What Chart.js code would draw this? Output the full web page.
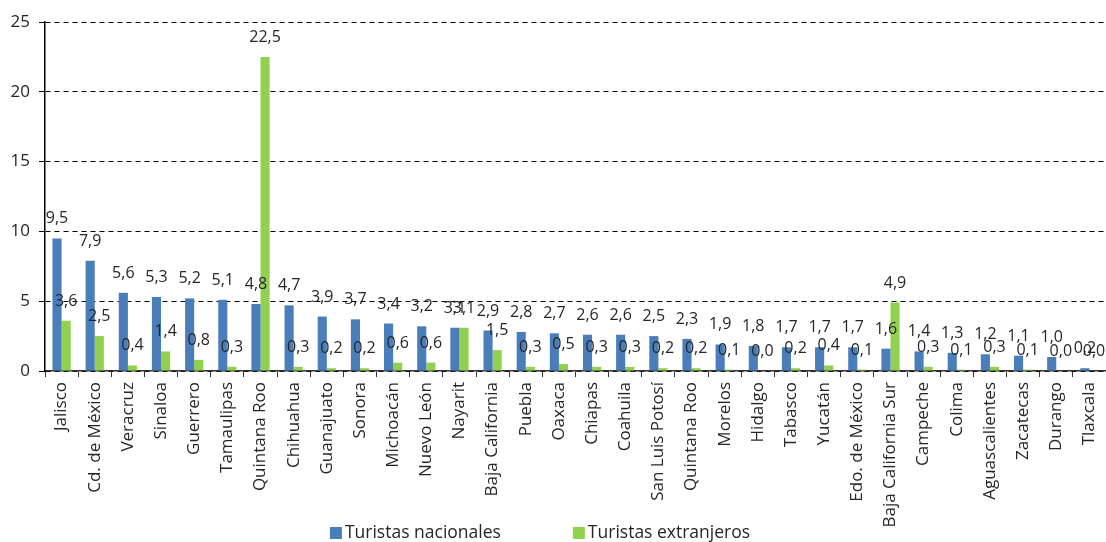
<!DOCTYPE html>
<html><head><meta charset="utf-8">
<script src="https://cdn.jsdelivr.net/npm/chart.js@4"></script>
<style>html,body{margin:0;padding:0;background:#fff}canvas{display:block}</style>
</head><body>
<canvas id="c" width="1106" height="542"></canvas>
<script>
const categories = ['Jalisco','Cd. de México','Veracruz','Sinaloa','Guerrero','Tamaulipas','Quintana Roo','Chihuahua','Guanajuato','Sonora','Michoacán','Nuevo León','Nayarit','Baja California','Puebla','Oaxaca','Chiapas','Coahuila','San Luis Potosí','Quintana Roo','Morelos','Hidalgo','Tabasco','Yucatán','Edo. de México','Baja California Sur','Campeche','Colima','Aguascalientes','Zacatecas','Durango','Tlaxcala'];
const nacionales = [9.5,7.9,5.6,5.3,5.2,5.1,4.8,4.7,3.9,3.7,3.4,3.2,3.1,2.9,2.8,2.7,2.6,2.6,2.5,2.3,1.9,1.8,1.7,1.7,1.7,1.6,1.4,1.3,1.2,1.1,1.0,0.2];
const extranjeros = [3.6,2.5,0.4,1.4,0.8,0.3,22.5,0.3,0.2,0.2,0.6,0.6,3.1,1.5,0.3,0.5,0.3,0.3,0.2,0.2,0.1,0.0,0.2,0.4,0.1,4.9,0.3,0.1,0.3,0.1,0.0,0.0];
const seriesNames = ['Turistas nacionales','Turistas extranjeros'];
const yMin = 0, yMax = 25, yStep = 5;

const FONT = "'Open Sans', 'Noto Sans', sans-serif";
const TEXT = '#262626';
const BLUE = '#4a7ebb';
const GREEN = '#92d050';

const valueLabels = {
  id: 'valueLabels',
  afterDatasetsDraw(chart) {
    const ctx = chart.ctx;
    ctx.save();
    ctx.font = '16px ' + FONT;
    ctx.fillStyle = TEXT;
    ctx.textAlign = 'center';
    ctx.textBaseline = 'alphabetic';
    chart.data.datasets.forEach((ds, i) => {
      chart.getDatasetMeta(i).data.forEach((bar, j) => {
        ctx.fillText(ds.data[j].toFixed(1).replace('.', ','), bar.x, bar.y - 15);
      });
    });
    ctx.restore();
  }
};

const customLegend = {
  id: 'customLegend',
  afterDraw(chart) {
    const ctx = chart.ctx;
    ctx.save();
    ctx.font = '17.5px ' + FONT;
    ctx.textBaseline = 'middle';
    const box = 12, gapBox = 3, gapItem = 72, y = 533;
    const items = chart.data.datasets.map(ds => ({ text: ds.label, color: ds.backgroundColor, w: ctx.measureText(ds.label).width }));
    const total = items.reduce((s, it) => s + box + gapBox + it.w, 0) + gapItem * (items.length - 1);
    let x = 540 - total / 2;
    items.forEach(it => {
      ctx.fillStyle = it.color;
      ctx.fillRect(x, y - box / 2, box, box);
      x += box + gapBox;
      ctx.fillStyle = TEXT;
      ctx.textAlign = 'left';
      ctx.fillText(it.text, x, y);
      x += it.w + gapItem;
    });
    ctx.restore();
  }
};

new Chart(document.getElementById('c'), {
  type: 'bar',
  data: {
    labels: categories,
    datasets: [
      { label: seriesNames[0], data: nacionales, backgroundColor: BLUE, categoryPercentage: 0.55, barPercentage: 1.0 },
      { label: seriesNames[1], data: extranjeros, backgroundColor: GREEN, categoryPercentage: 0.55, barPercentage: 1.0 }
    ]
  },
  options: {
    responsive: false,
    animation: false,
    devicePixelRatio: 1,
    layout: { padding: { top: 22, right: 0, left: 0, bottom: 0 } },
    plugins: { legend: { display: false }, tooltip: { enabled: false }, title: { display: false } },
    scales: {
      x: {
        grid: { display: true, drawOnChartArea: false, drawTicks: true, tickLength: 6, color: '#333', offset: true },
        border: { display: true, color: '#333', width: 1.5 },
        ticks: { minRotation: 90, maxRotation: 90, autoSkip: false, padding: 5, color: TEXT, font: { family: FONT, size: 17 } },
        afterFit(scale) { scale.height = 542 - 371; scale.paddingLeft = 0; scale.paddingRight = 0; }
      },
      y: {
        min: yMin, max: yMax,
        ticks: { stepSize: yStep, padding: 9, color: TEXT, font: { family: FONT, size: 17 } },
        grid: { color: '#000', lineWidth: 1, tickLength: 6, tickColor: '#000', tickBorderDash: [] },
        border: { display: true, color: '#000', width: 1.5, dash: [5, 4] },
        afterFit(scale) { scale.width = 45; }
      }
    }
  },
  plugins: [valueLabels, customLegend]
});
</script>
</body></html>
